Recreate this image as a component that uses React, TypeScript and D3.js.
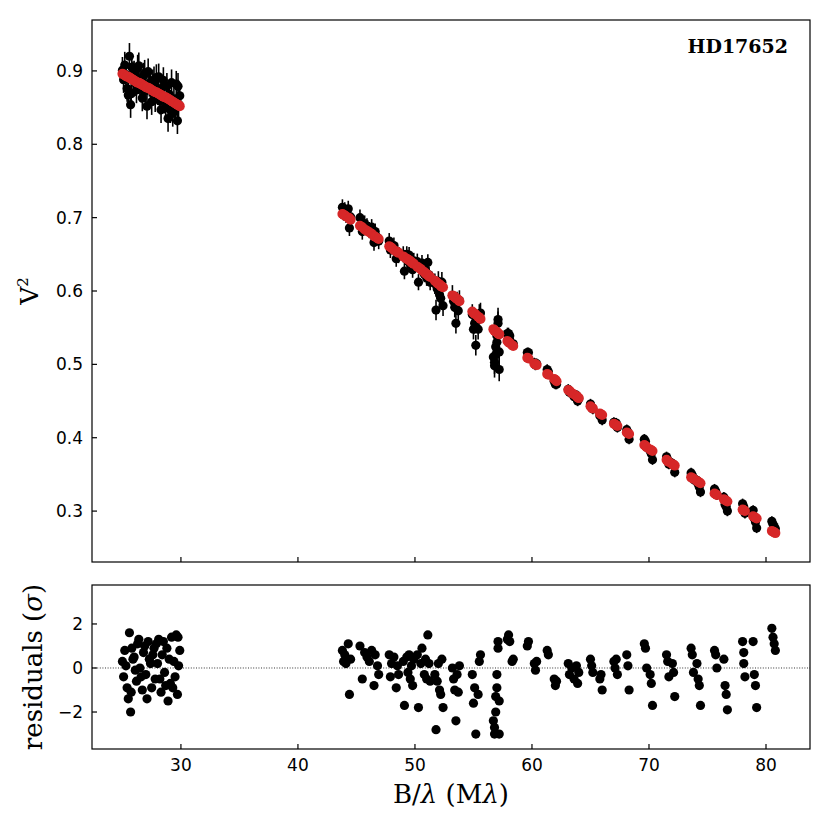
import React, { useEffect, useRef } from 'react';
import * as d3 from 'd3';

// Baselines (Mλ) of each measurement
const baselines = [
  25.0, 25.1, 25.3, 25.5, 25.6, 25.7, 25.8, 26.0, 26.2, 26.3,
  26.5, 26.7, 26.8, 27.0, 27.2, 27.3, 27.5, 27.7, 27.8, 28.0,
  28.1, 28.3, 28.4, 28.6, 28.8, 28.9, 29.1, 29.2, 29.4, 29.5,
  29.6, 29.7, 29.8, 29.9, 26.1, 27.6, 28.7, 25.9,
  25.2, 25.4, 26.4, 26.6, 26.9, 27.1, 27.4, 27.9, 28.2, 28.5,
  29.0, 29.3, 29.75, 25.75,
  43.8, 43.9, 44.0, 44.1, 44.3, 44.4, 44.5,
  45.3, 45.5, 45.7, 45.9, 46.1, 46.3, 46.5, 46.6, 46.8, 46.9,
  47.8, 47.9, 48.0, 48.2, 48.4, 48.5, 48.6,
  49.0, 49.1, 49.3, 49.4, 49.5, 49.6, 49.7, 49.8, 49.9,
  50.2, 50.3, 50.5, 50.6, 50.8, 50.9, 51.0, 51.1, 51.2, 51.3,
  51.7, 51.8, 51.9, 52.0, 52.1, 52.2, 52.3, 52.4,
  53.2, 53.3, 53.4, 53.5, 53.6, 53.7, 53.8,
  54.9, 55.0, 55.1, 55.2, 55.4, 55.5, 55.6,
  56.7, 56.8, 56.8, 56.9, 56.9, 57.0, 57.0, 57.1, 57.1, 57.2, 57.2,
  57.9, 58.0, 58.1, 58.3, 58.4,
  59.6, 59.7, 60.2, 60.3, 60.4,
  61.3, 61.4, 61.9, 62.0, 62.1,
  63.1, 63.2, 63.4, 63.6, 63.8, 63.9, 64.0,
  65.0, 65.1, 65.2, 65.8, 65.9, 66.0,
  67.0, 67.1, 67.2, 67.3,
  68.1, 68.2, 68.3,
  69.6, 69.7, 69.8, 70.1, 70.2, 70.3,
  71.5, 71.6, 71.7, 72.0, 72.1, 72.2,
  73.6, 73.7, 73.8, 74.1, 74.2, 74.3, 74.4,
  75.6, 75.7, 75.8, 76.4, 76.5, 76.6, 76.7,
  78.0, 78.1, 78.1, 78.2, 78.9, 79.0, 79.1, 79.2,
  80.5, 80.6, 80.7, 80.8,
];

// Measured squared visibilities
const v2Obs = [
  0.901, 0.888, 0.895, 0.867, 0.920, 0.854, 0.905, 0.896, 0.874, 0.904,
  0.883, 0.863, 0.893, 0.873, 0.899, 0.883, 0.858, 0.888, 0.862, 0.874,
  0.892, 0.847, 0.877, 0.860, 0.879, 0.835, 0.847, 0.884, 0.862, 0.849,
  0.882, 0.832, 0.855, 0.866, 0.884, 0.884, 0.850, 0.895,
  0.908, 0.876, 0.907, 0.875, 0.897, 0.852, 0.879, 0.891, 0.859, 0.887,
  0.868, 0.842, 0.879, 0.869,
  0.714, 0.707, 0.710, 0.704, 0.712, 0.686, 0.701,
  0.700, 0.681, 0.692, 0.688, 0.683, 0.687, 0.666, 0.681, 0.673, 0.668,
  0.668, 0.656, 0.661, 0.662, 0.644, 0.654, 0.649,
  0.650, 0.627, 0.650, 0.641, 0.649, 0.636, 0.640, 0.629, 0.641,
  0.640, 0.612, 0.632, 0.638, 0.623, 0.628, 0.618, 0.639, 0.622, 0.612,
  0.610, 0.574, 0.603, 0.613, 0.595, 0.590, 0.612, 0.580,
  0.594, 0.586, 0.578, 0.556, 0.585, 0.573, 0.587,
  0.568, 0.548, 0.556, 0.526, 0.548, 0.568, 0.570,
  0.510, 0.503, 0.498, 0.513, 0.524, 0.539, 0.530, 0.561, 0.556, 0.517, 0.493,
  0.542, 0.542, 0.539, 0.528, 0.528,
  0.516, 0.516, 0.502, 0.499, 0.501,
  0.493, 0.490, 0.477, 0.473, 0.473,
  0.466, 0.462, 0.461, 0.456, 0.458, 0.450, 0.453,
  0.446, 0.442, 0.439, 0.430, 0.430, 0.424,
  0.421, 0.418, 0.420, 0.414,
  0.411, 0.407, 0.398,
  0.398, 0.395, 0.387, 0.382, 0.378, 0.370,
  0.374, 0.370, 0.364, 0.365, 0.362, 0.353,
  0.352, 0.349, 0.343, 0.342, 0.337, 0.333, 0.326,
  0.330, 0.327, 0.322, 0.319, 0.309, 0.306, 0.300,
  0.310, 0.306, 0.302, 0.297, 0.301, 0.290, 0.285, 0.277,
  0.286, 0.282, 0.279, 0.276,
];

// 1-sigma uncertainties
const v2Err = [
  0.018, 0.018, 0.018, 0.018, 0.018, 0.018, 0.018, 0.018, 0.018, 0.018,
  0.018, 0.018, 0.018, 0.018, 0.018, 0.018, 0.018, 0.018, 0.018, 0.018,
  0.018, 0.018, 0.018, 0.018, 0.018, 0.018, 0.018, 0.018, 0.018, 0.018,
  0.018, 0.018, 0.018, 0.018, 0.018, 0.018, 0.018, 0.018,
  0.018, 0.018, 0.018, 0.018, 0.018, 0.018, 0.018, 0.018, 0.018, 0.018,
  0.018, 0.018, 0.018, 0.018,
  0.011, 0.011, 0.011, 0.011, 0.011, 0.011, 0.011,
  0.011, 0.011, 0.011, 0.011, 0.011, 0.011, 0.011, 0.011, 0.011, 0.011,
  0.011, 0.011, 0.011, 0.011, 0.011, 0.011, 0.011,
  0.011, 0.011, 0.011, 0.011, 0.011, 0.011, 0.011, 0.011, 0.011,
  0.011, 0.011, 0.011, 0.011, 0.011, 0.011, 0.011, 0.011, 0.011, 0.011,
  0.014, 0.014, 0.014, 0.014, 0.014, 0.014, 0.014, 0.014,
  0.014, 0.014, 0.014, 0.014, 0.014, 0.014, 0.014,
  0.014, 0.014, 0.014, 0.014, 0.014, 0.014, 0.014,
  0.016, 0.016, 0.016, 0.016, 0.016, 0.016, 0.016, 0.016, 0.016, 0.016, 0.016,
  0.008, 0.008, 0.008, 0.008, 0.008,
  0.007, 0.007, 0.007, 0.007, 0.007,
  0.007, 0.007, 0.007, 0.007, 0.007,
  0.007, 0.007, 0.007, 0.007, 0.007, 0.007, 0.007,
  0.007, 0.007, 0.007, 0.007, 0.007, 0.007,
  0.007, 0.007, 0.007, 0.007,
  0.007, 0.007, 0.007,
  0.007, 0.007, 0.007, 0.007, 0.007, 0.007,
  0.007, 0.007, 0.007, 0.007, 0.007, 0.007,
  0.007, 0.007, 0.007, 0.007, 0.007, 0.007, 0.007,
  0.007, 0.007, 0.007, 0.007, 0.007, 0.007, 0.007,
  0.007, 0.007, 0.007, 0.007, 0.007, 0.007, 0.007, 0.007,
  0.007, 0.007, 0.007, 0.007,
];

// Best-fit model V² at each baseline
const v2Model = [
  0.896, 0.895, 0.893, 0.892, 0.891, 0.890, 0.889, 0.887, 0.885, 0.884,
  0.883, 0.881, 0.880, 0.878, 0.877, 0.876, 0.874, 0.872, 0.871, 0.870,
  0.869, 0.867, 0.866, 0.864, 0.863, 0.862, 0.860, 0.859, 0.857, 0.856,
  0.855, 0.854, 0.853, 0.852, 0.886, 0.873, 0.864, 0.888,
  0.894, 0.892, 0.884, 0.882, 0.879, 0.877, 0.875, 0.871, 0.868, 0.865,
  0.861, 0.858, 0.854, 0.889,
  0.705, 0.704, 0.703, 0.702, 0.700, 0.699, 0.697,
  0.689, 0.687, 0.684, 0.682, 0.680, 0.678, 0.675, 0.674, 0.672, 0.671,
  0.661, 0.660, 0.659, 0.656, 0.654, 0.653, 0.652,
  0.647, 0.646, 0.644, 0.643, 0.642, 0.641, 0.639, 0.638, 0.637,
  0.633, 0.632, 0.630, 0.628, 0.626, 0.624, 0.623, 0.622, 0.620, 0.619,
  0.614, 0.613, 0.611, 0.610, 0.609, 0.607, 0.606, 0.605,
  0.594, 0.593, 0.592, 0.590, 0.589, 0.588, 0.586,
  0.572, 0.570, 0.569, 0.568, 0.565, 0.564, 0.562,
  0.548, 0.546, 0.546, 0.545, 0.545, 0.544, 0.544, 0.542, 0.542, 0.541, 0.541,
  0.532, 0.530, 0.529, 0.526, 0.525,
  0.509, 0.508, 0.501, 0.500, 0.499,
  0.487, 0.486, 0.480, 0.479, 0.477,
  0.465, 0.464, 0.461, 0.459, 0.457, 0.455, 0.454,
  0.443, 0.441, 0.440, 0.433, 0.432, 0.431,
  0.419, 0.418, 0.417, 0.416,
  0.407, 0.406, 0.405,
  0.390, 0.389, 0.387, 0.384, 0.383, 0.382,
  0.370, 0.368, 0.367, 0.364, 0.363, 0.362,
  0.346, 0.345, 0.344, 0.341, 0.340, 0.339, 0.338,
  0.324, 0.323, 0.322, 0.316, 0.315, 0.314, 0.313,
  0.302, 0.301, 0.301, 0.300, 0.293, 0.292, 0.291, 0.290,
  0.273, 0.272, 0.271, 0.270,
];

// Normalised residuals (data - model) / sigma
const residuals = [
  0.3, -0.4, 0.1, -1.4, 1.6, -2.0, 0.9, 0.5, -0.6, 1.1,
  0.0, -1.0, 0.7, -0.3, 1.2, 0.4, -0.9, 0.9, -0.5, 0.2,
  1.3, -1.1, 0.6, -0.2, 0.9, -1.5, -0.7, 1.4, 0.3, -0.4,
  1.5, -1.2, 0.1, 0.8, -0.1, 0.6, -0.8, 0.4,
  0.8, -0.9, 1.3, -0.4, 1.0, -1.4, 0.2, 1.1, -0.5, 1.2,
  0.4, -0.9, 1.4, -1.1,
  0.8, 0.3, 0.6, 0.2, 1.1, -1.2, 0.4,
  1.0, -0.5, 0.7, 0.5, 0.3, 0.8, -0.8, 0.6, 0.1, -0.3,
  0.6, -0.4, 0.2, 0.5, -0.9, 0.1, -0.3,
  0.3, -1.7, 0.5, -0.2, 0.6, -0.5, 0.1, -0.8, 0.4,
  0.6, -1.8, 0.2, 0.9, -0.3, 0.4, -0.5, 1.5, 0.2, -0.6,
  -0.3, -2.8, -0.6, 0.2, -1.0, -1.2, 0.4, -1.8,
  0.0, -0.5, -1.0, -2.4, -0.3, -1.1, 0.1,
  -0.3, -1.6, -0.9, -3.0, -1.2, 0.3, 0.6,
  -2.4, -2.7, -3.0, -2.0, -1.3, -0.3, -0.9, 1.2, 0.9, -1.5, -3.0,
  1.3, 1.5, 1.2, 0.3, 0.4,
  1.0, 1.2, 0.2, -0.1, 0.3,
  0.8, 0.6, -0.5, -0.8, -0.6,
  0.2, -0.3, 0.0, -0.5, 0.1, -0.7, -0.2,
  0.4, 0.1, -0.2, -0.5, -0.3, -1.0,
  0.3, 0.0, 0.4, -0.3,
  0.6, 0.1, -1.0,
  1.1, 0.9, 0.0, -0.3, -0.7, -1.7,
  0.6, 0.3, -0.4, 0.2, -0.2, -1.3,
  0.9, 0.6, -0.2, 0.2, -0.5, -0.8, -1.7,
  0.8, 0.6, 0.0, 0.4, -0.8, -1.2, -1.9,
  1.2, 0.7, 0.2, -0.4, 1.2, -0.3, -0.8, -1.8,
  1.8, 1.4, 1.1, 0.8,
];

const v2Ticks = [0.3, 0.4, 0.5, 0.6, 0.7, 0.8, 0.9];
const residTicks = [-2, 0, 2];
const baselineTicks = [30, 40, 50, 60, 70, 80];
const starName = 'HD17652';

const W = 830;
const H = 830;
const left = 92;
const right = 810;
const topPanel = { top: 20, bottom: 562 };
const botPanel = { top: 585, bottom: 749 };

const App: React.FC = () => {
  const ref = useRef<SVGSVGElement | null>(null);

  useEffect(() => {
    if (!ref.current) return;
    const svg = d3.select(ref.current);
    svg.selectAll('*').remove();

    const x = d3.scaleLinear().domain([22.4, 83.76]).range([left, right]);
    const yTop = d3.scaleLinear().domain([0.2306, 0.9694]).range([topPanel.bottom, topPanel.top]);
    const yBot = d3.scaleLinear().domain([-3.68, 3.77]).range([botPanel.bottom, botPanel.top]);

    const pts = baselines.map((b, i) => ({
      b, v: v2Obs[i], e: v2Err[i], m: v2Model[i], r: residuals[i],
    }));

    const tickFont = 'DejaVu Sans, sans-serif';
    const labelFont = 'DejaVu Serif, serif';
    const tickSize = 17;

    // ---- top panel ----
    const gt = svg.append('g');
    gt.selectAll('line.err')
      .data(pts)
      .enter()
      .append('line')
      .attr('x1', d => x(d.b))
      .attr('x2', d => x(d.b))
      .attr('y1', d => yTop(d.v - d.e))
      .attr('y2', d => yTop(d.v + d.e))
      .attr('stroke', '#000')
      .attr('stroke-width', 1.6);
    gt.selectAll('circle.obs')
      .data(pts)
      .enter()
      .append('circle')
      .attr('cx', d => x(d.b))
      .attr('cy', d => yTop(d.v))
      .attr('r', 4.6)
      .attr('fill', '#000');
    gt.selectAll('circle.mod')
      .data(pts)
      .enter()
      .append('circle')
      .attr('cx', d => x(d.b))
      .attr('cy', d => yTop(d.m))
      .attr('r', 5)
      .attr('fill', '#d62728');

    gt.append('rect')
      .attr('x', left).attr('y', topPanel.top)
      .attr('width', right - left).attr('height', topPanel.bottom - topPanel.top)
      .attr('fill', 'none').attr('stroke', '#000').attr('stroke-width', 1.2);

    v2Ticks.forEach(t => {
      gt.append('line')
        .attr('x1', left).attr('x2', left + 5)
        .attr('y1', yTop(t)).attr('y2', yTop(t))
        .attr('stroke', '#000').attr('stroke-width', 1.2);
      gt.append('text')
        .attr('x', left - 9).attr('y', yTop(t))
        .attr('dy', '0.36em')
        .attr('text-anchor', 'end')
        .attr('font-family', tickFont).attr('font-size', tickSize)
        .text(d3.format('.1f')(t));
    });
    baselineTicks.forEach(t => {
      gt.append('line')
        .attr('x1', x(t)).attr('x2', x(t))
        .attr('y1', topPanel.bottom).attr('y2', topPanel.bottom - 5)
        .attr('stroke', '#000').attr('stroke-width', 1.2);
    });

    gt.append('text')
      .attr('x', 788).attr('y', 53)
      .attr('text-anchor', 'end')
      .attr('font-family', labelFont).attr('font-weight', 'bold').attr('font-size', 19)
      .text(starName);

    const yl = gt.append('text')
      .attr('transform', `translate(38,${(topPanel.top + topPanel.bottom) / 2}) rotate(-90)`)
      .attr('text-anchor', 'middle')
      .attr('font-family', labelFont).attr('font-size', 25);
    yl.append('tspan').text('V');
    yl.append('tspan').attr('dy', -10).attr('font-size', 15).text('2');

    // ---- bottom panel ----
    const gb = svg.append('g');
    gb.append('line')
      .attr('x1', left).attr('x2', right)
      .attr('y1', yBot(0)).attr('y2', yBot(0))
      .attr('stroke', '#000').attr('stroke-width', 0.8)
      .attr('stroke-dasharray', '1,1.6');
    gb.selectAll('circle.res')
      .data(pts)
      .enter()
      .append('circle')
      .attr('cx', d => x(d.b))
      .attr('cy', d => yBot(d.r))
      .attr('r', 4.6)
      .attr('fill', '#000');

    gb.append('rect')
      .attr('x', left).attr('y', botPanel.top)
      .attr('width', right - left).attr('height', botPanel.bottom - botPanel.top)
      .attr('fill', 'none').attr('stroke', '#000').attr('stroke-width', 1.2);

    residTicks.forEach(t => {
      gb.append('line')
        .attr('x1', left).attr('x2', left + 5)
        .attr('y1', yBot(t)).attr('y2', yBot(t))
        .attr('stroke', '#000').attr('stroke-width', 1.2);
      gb.append('text')
        .attr('x', left - 9).attr('y', yBot(t))
        .attr('dy', '0.36em')
        .attr('text-anchor', 'end')
        .attr('font-family', tickFont).attr('font-size', tickSize)
        .text(t < 0 ? `\u2212${-t}` : `${t}`);
    });
    baselineTicks.forEach(t => {
      gb.append('line')
        .attr('x1', x(t)).attr('x2', x(t))
        .attr('y1', botPanel.bottom).attr('y2', botPanel.bottom - 5)
        .attr('stroke', '#000').attr('stroke-width', 1.2);
      gb.append('text')
        .attr('x', x(t)).attr('y', botPanel.bottom + 22)
        .attr('text-anchor', 'middle')
        .attr('font-family', tickFont).attr('font-size', tickSize)
        .text(t);
    });

    const rl = gb.append('text')
      .attr('transform', `translate(42,${(botPanel.top + botPanel.bottom) / 2}) rotate(-90)`)
      .attr('text-anchor', 'middle')
      .attr('font-family', labelFont).attr('font-size', 26);
    rl.append('tspan').text('residuals (');
    rl.append('tspan').attr('font-style', 'italic').text('σ');
    rl.append('tspan').text(')');

    const xl = gb.append('text')
      .attr('x', (left + right) / 2).attr('y', 803)
      .attr('text-anchor', 'middle')
      .attr('font-family', labelFont).attr('font-size', 26);
    xl.append('tspan').text('B/');
    xl.append('tspan').attr('font-style', 'italic').text('λ');
    xl.append('tspan').text(' (M');
    xl.append('tspan').attr('font-style', 'italic').text('λ');
    xl.append('tspan').text(')');
  }, []);

  return (
    <svg
      ref={ref}
      width={W}
      height={H}
      style={{ position: 'absolute', left: 0, top: 0, background: '#fff' }}
    />
  );
};

export default App;
